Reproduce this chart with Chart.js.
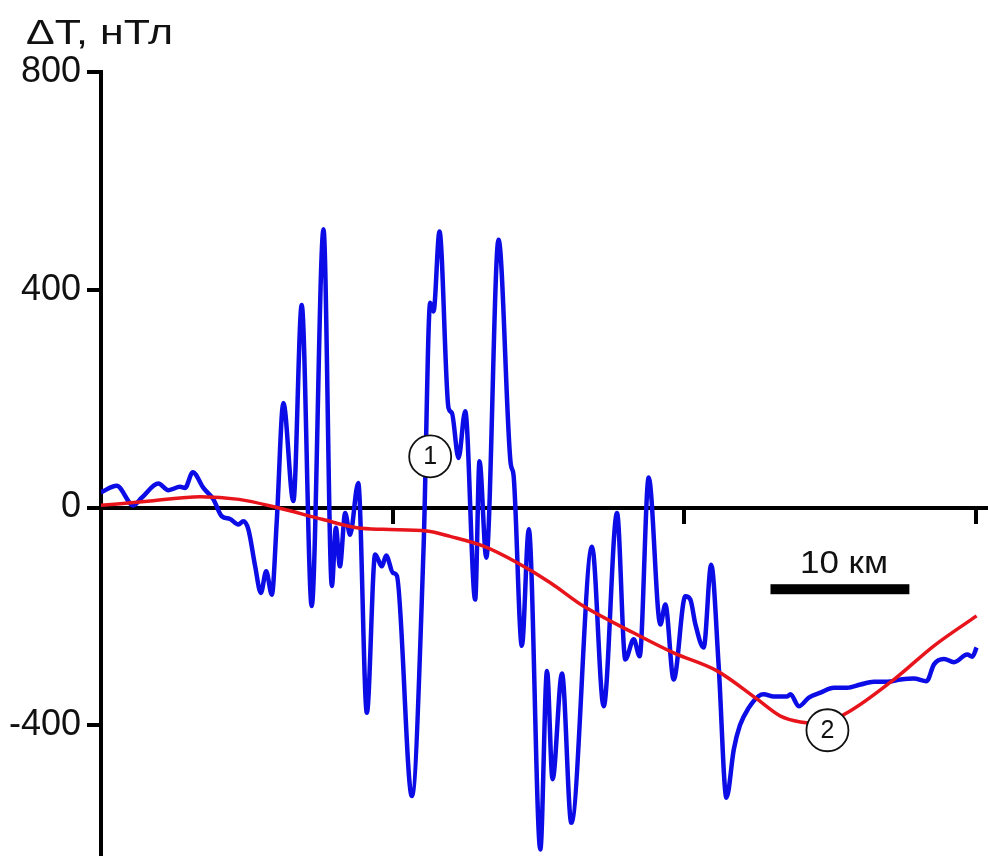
<!DOCTYPE html>
<html>
<head>
<meta charset="utf-8">
<script src="https://cdn.jsdelivr.net/npm/chart.js@4.4.1/dist/chart.umd.min.js"></script>
<style>
  html, body { margin: 0; padding: 0; background: #ffffff; }
  #wrap { width: 988px; height: 856px; }
</style>
</head>
<body>
<div id="wrap"><canvas id="c" width="988" height="856"></canvas></div>
<script>
// ---- data (distance along profile, km; anomaly ΔT, nT) ----
const blueKm = [
  0, 1.13, 2.33, 2.93, 4.13, 4.85, 5.69, 6.05, 6.61, 7.37,
  8.09, 8.70, 9.29, 9.89, 10.25, 10.61, 11.10, 11.51, 11.89, 12.30,
  12.66, 13.13, 13.85, 14.45, 15.17, 16.02, 16.62, 16.91, 17.20, 17.58,
  17.93, 18.52, 19.14, 19.74, 20.22, 20.53, 21.02, 21.30, 22.38, 23.22,
  23.70, 23.94, 24.37, 25.02, 25.26, 25.74, 26.22, 26.94, 27.25, 27.74,
  28.62, 29.50, 29.70, 30.30, 30.80, 31.63, 32.11, 32.51, 33.19, 33.86,
  35.35, 36.19, 37.15, 37.75, 38.35, 38.78, 39.43, 40.27, 40.63, 41.23,
  42.07, 42.43, 42.80, 43.39, 43.93, 44.47, 45.03, 45.56, 46.00, 46.63,
  47.36, 47.71, 48.43, 49.40, 49.64, 50.24, 50.96, 51.80, 52.76, 53.72,
  54.68, 55.64, 56.61, 57.56, 58.52, 59.44, 59.97, 60.69, 61.41, 62.37,
  62.73, 63.04
];
const blueNT = [
  28, 40, 4, 18, 44, 32, 38, 36, 65, 36,
  15, -16, -21, -31, -25, -40, -108, -157, -117, -160,
  -22, 192, 12, 372, -181, 511, -144, -37, -108, -10,
  -50, 45, -377, -86, -108, -88, -120, -125, -530, -77,
  376, 360, 507, 183, 174, 91, 177, -169, 85, -92,
  492, 80, 60, -254, -40, -628, -300, -499, -305, -579,
  -72, -365, -10, -279, -242, -273, 55, -215, -178, -316,
  -163, -169, -215, -257, -105, -291, -533, -444, -400, -368,
  -346, -343, -347, -347, -343, -365, -349, -340, -331, -331,
  -325, -320, -320, -316, -314, -319, -288, -278, -284, -270,
  -274, -257
];
const redKm = [
  0, 3.53, 7.13, 9.94, 12.66, 15.99, 18.42, 20.34, 23.46, 25.14,
  27.54, 29.94, 32.35, 34.73, 38.33, 41.23, 44.35, 47.24, 48.92, 50.36,
  51.80, 53.72, 57.08, 59.97, 63.04
];
const redNT = [
  4, 12, 20, 15, 0, -22, -37, -40, -43, -53,
  -71, -101, -138, -181, -230, -267, -300, -352, -383, -394,
  -397, -377, -316, -254, -199
];
const xTickKm = [0, 21, 42, 63];
const yTickNT = [-400, 0, 400, 800];
const markerLabels = ['1', '2'];
const markerKm = [23.7, 52.3];
const markerNT = [94, -409];
const scaleBarKm = [48.2, 58.2];
const scaleBarNT = -150;
const scaleBarText = '10 км';
const axisTitle = 'ΔT, нТл';

const FONT = '"Liberation Sans", Arial, Helvetica, sans-serif';

function drawStretched(ctx, text, x, yBase, size, targetW, align) {
  ctx.save();
  ctx.font = size + 'px ' + FONT;
  ctx.textBaseline = 'alphabetic';
  ctx.textAlign = 'left';
  const w = ctx.measureText(text).width;
  const k = targetW / w;
  let left = x;
  if (align === 'center') left = x - targetW / 2;
  ctx.translate(left, yBase);
  ctx.scale(k, 1);
  ctx.fillStyle = '#111';
  ctx.fillText(text, 0, 0);
  ctx.restore();
}

const annot = {
  id: 'annot',
  afterDatasetsDraw(chart) {
    const ctx = chart.ctx;
    const xs = chart.scales.x, ys = chart.scales.y;
    ctx.save();
    // scale bar
    const x0 = xs.getPixelForValue(scaleBarKm[0]);
    const x1 = xs.getPixelForValue(scaleBarKm[1]);
    const yb = ys.getPixelForValue(scaleBarNT);
    ctx.fillStyle = '#000';
    ctx.fillRect(x0, yb - 5, x1 - x0, 10);
    drawStretched(ctx, scaleBarText, (x0 + x1) / 2 + 4, yb - 16, 31, 88, 'center');
    // numbered markers
    markerLabels.forEach((lab, i) => {
      const cx = xs.getPixelForValue(markerKm[i]);
      const cy = ys.getPixelForValue(markerNT[i]);
      ctx.beginPath();
      ctx.arc(cx, cy, 21, 0, Math.PI * 2);
      ctx.fillStyle = '#fff';
      ctx.fill();
      ctx.lineWidth = 1.8;
      ctx.strokeStyle = '#111';
      ctx.stroke();
      ctx.fillStyle = '#111';
      ctx.font = '25px ' + FONT;
      ctx.textAlign = 'center';
      ctx.textBaseline = 'middle';
      ctx.fillText(lab, cx, cy + 1);
    });
    ctx.restore();
  },
  afterDraw(chart) {
    drawStretched(chart.ctx, axisTitle, 26, 44, 35, 147, 'left');
  }
};

const toXY = (xa, ya) => xa.map((v, i) => ({ x: v, y: ya[i] }));

new Chart(document.getElementById('c').getContext('2d'), {
  type: 'line',
  data: {
    datasets: [
      {
        data: toXY(blueKm, blueNT),
        borderColor: '#0c0ce6',
        borderWidth: 4.5,
        pointRadius: 0,
        cubicInterpolationMode: 'monotone',
        fill: false,
        order: 1
      },
      {
        data: toXY(redKm, redNT),
        borderColor: '#e8141c',
        borderWidth: 3.5,
        pointRadius: 0,
        cubicInterpolationMode: 'monotone',
        fill: false,
        order: 0
      }
    ]
  },
  options: {
    responsive: false,
    animation: false,
    devicePixelRatio: 1,
    layout: { padding: { top: 72, left: 0, right: 0, bottom: 0 } },
    plugins: { legend: { display: false }, tooltip: { enabled: false }, title: { display: false } },
    scales: {
      x: {
        type: 'linear',
        min: 0,
        max: 63.86,
        position: { y: 0 },
        afterBuildTicks: s => { s.ticks = xTickKm.map(v => ({ value: v })); },
        ticks: { display: false },
        grid: { drawOnChartArea: false, drawTicks: true, tickLength: 14, color: '#000', lineWidth: 4 },
        border: { display: true, color: '#000', width: 4 }
      },
      y: {
        type: 'linear',
        min: -640,
        max: 800,
        position: 'left',
        afterBuildTicks: s => { s.ticks = yTickNT.map(v => ({ value: v })); },
        afterFit: s => { s.width = 101; s.paddingTop = 0; s.paddingBottom = 0; },
        ticks: {
          color: '#111',
          padding: 6,
          font: { family: FONT, size: 36 },
          callback: v => String(v)
        },
        grid: { drawOnChartArea: false, drawTicks: true, tickLength: 14, color: '#000', lineWidth: 4 },
        border: { display: true, color: '#000', width: 4 }
      }
    }
  },
  plugins: [annot]
});
</script>
</body>
</html>
